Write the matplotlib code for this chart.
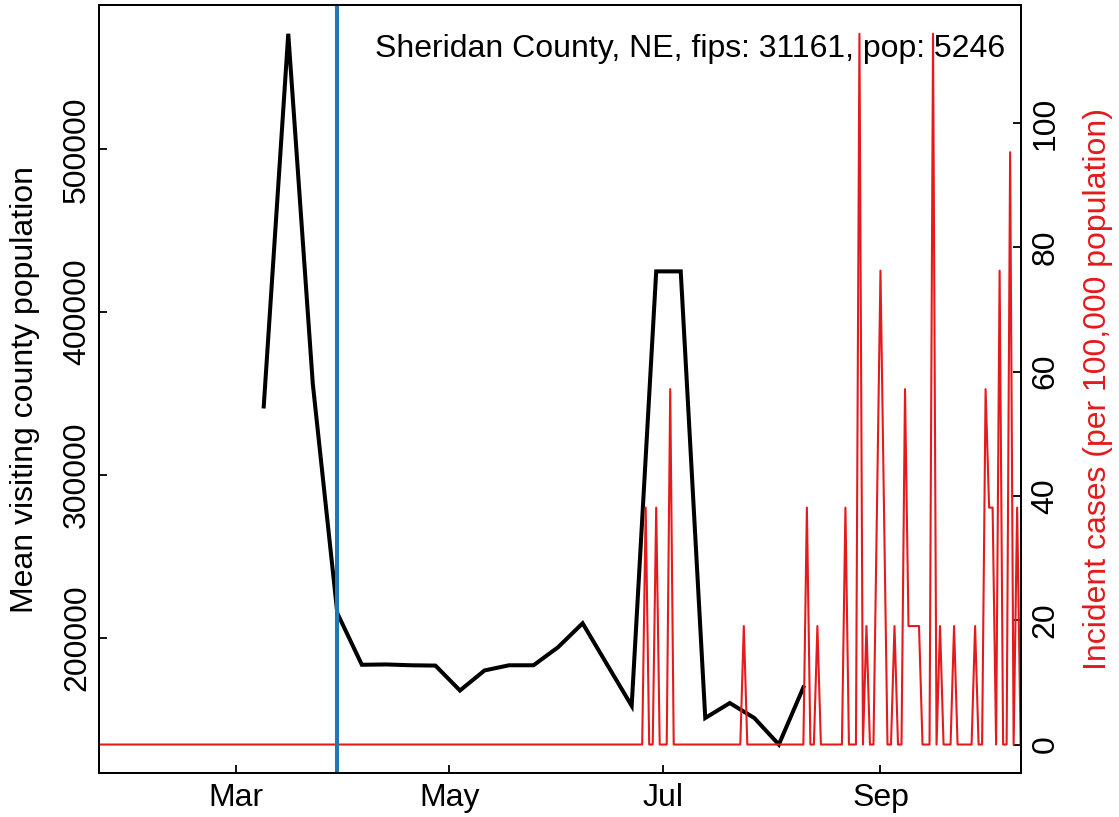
import matplotlib
matplotlib.use('Agg')
import matplotlib.pyplot as plt
import matplotlib.dates as mdates
import numpy as np
import pandas as pd

# weekly mean visiting county population (Mondays from 9 Mar 2020)
visit_start = '2020-03-09'
visits = [342000, 571000, 356000, 215000, 183300, 183500, 183000, 182800,
          167500, 179800, 183000, 183000, 194100, 208800, 183400, 158100,
          425000, 425000, 150600, 159800, 150600, 134300, 169400]

# daily incident cases, only the non-zero days
case_dates = ['2020-06-26', '2020-06-29', '2020-07-03', '2020-07-24',
              '2020-08-11', '2020-08-14', '2020-08-22', '2020-08-26',
              '2020-08-28', '2020-08-31', '2020-09-01', '2020-09-02',
              '2020-09-05', '2020-09-08', '2020-09-09', '2020-09-10',
              '2020-09-11', '2020-09-12', '2020-09-16', '2020-09-18',
              '2020-09-22', '2020-09-28', '2020-10-01', '2020-10-02',
              '2020-10-03', '2020-10-05', '2020-10-08', '2020-10-10']
case_counts = [2, 2, 3, 1, 2, 1, 2, 6, 1, 2, 4, 2, 1, 3, 1, 1, 1, 1, 6, 1,
               1, 1, 3, 2, 2, 4, 5, 2]

first_day = '2020-01-22'
last_day = '2020-10-11'
event_day = '2020-03-30'
population = 5246
title = 'Sheridan County, NE, fips: 31161, pop: 5246'

red = '#e41a1c'
fs = 23


def plot():
  plt.rc('font', family='Liberation Sans')

  days = pd.date_range(first_day, last_day, freq='D')
  cases = pd.Series(0.0, index=days)
  cases[pd.to_datetime(case_dates)] = case_counts
  incid = cases.values * 100000.0 / population

  weeks = pd.date_range(visit_start, periods=len(visits), freq='7D')

  fig = plt.figure(figsize=(11.19, 8.17), dpi=100)
  ax = fig.add_axes([0.0885, 0.0539, 0.8236, 0.9396])

  ax.plot(weeks, visits, color='black', lw=2.9, solid_joinstyle='miter')
  ax.margins(y=0.04)
  ax.set_xlim(pd.Timestamp(first_day), pd.Timestamp(last_day))
  ax.set_yticks([200000, 300000, 400000, 500000])
  ax.set_yticklabels(['200000', '300000', '400000', '500000'],
                     rotation=90, va='center')
  ax.set_ylabel('Mean visiting county population', fontsize=fs)
  ax.yaxis.set_label_coords(-0.064, 0.5)

  ax.xaxis.set_major_locator(mdates.MonthLocator(bymonth=[3, 5, 7, 9]))
  ax.xaxis.set_major_formatter(mdates.DateFormatter('%b'))

  ax2 = ax.twinx()
  ax2.plot(days, incid, color=red, lw=1.5)
  ax2.margins(y=0.04)
  ax2.set_xlim(pd.Timestamp(first_day), pd.Timestamp(last_day))
  ax2.set_yticks([0, 20, 40, 60, 80, 100])
  ax2.set_yticklabels(['0', '20', '40', '60', '80', '100'],
                      rotation=90, va='center')
  ax2.set_ylabel('Incident cases (per 100,000 population)', color=red,
                 fontsize=fs)
  ax2.yaxis.set_label_coords(1.068, 0.5)
  ax2.axvline(pd.Timestamp(event_day), color='#1f77b4', lw=2.9)

  for a in (ax, ax2):
    a.tick_params(direction='in', length=6, width=1.3, labelsize=fs)
    for s in a.spines.values():
      s.set_linewidth(1.4)
  ax.tick_params(axis='y', pad=5)
  ax.tick_params(axis='x', pad=7)
  ax2.tick_params(axis='y', pad=7)

  ax2.text(0.983, 0.9327, title, transform=ax2.transAxes, ha='right',
           va='baseline', fontsize=fs)

  fig.savefig('out.png', dpi=100)


plot()
